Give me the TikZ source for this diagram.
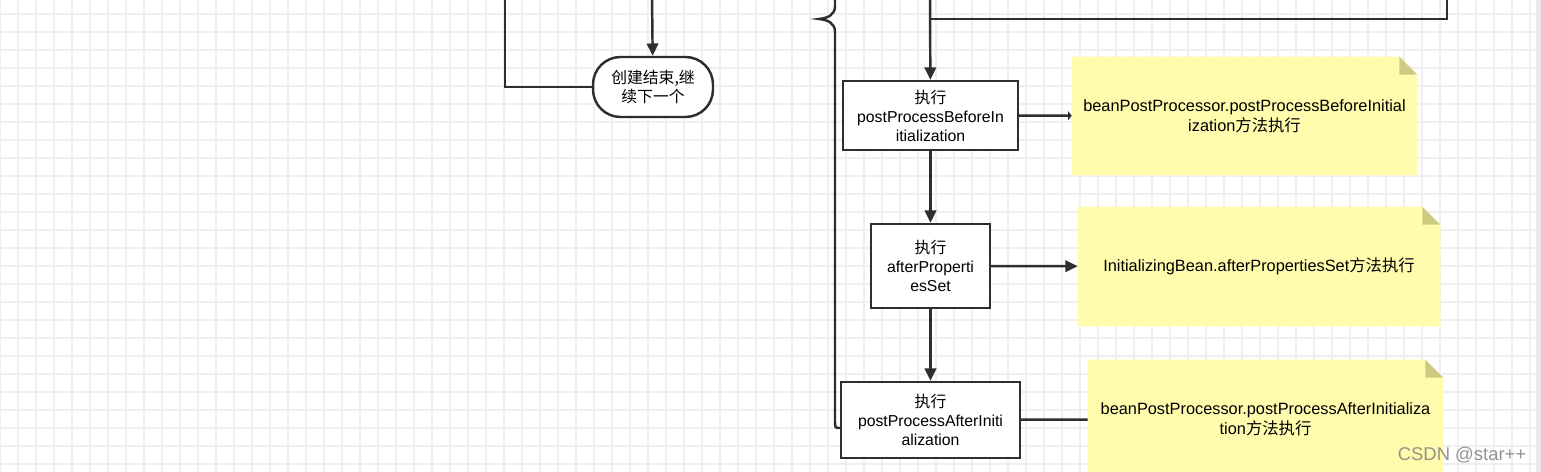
\documentclass[tikz,border=0pt]{standalone}
\usepackage{fontspec}
\setmainfont{Liberation Sans}
\newfontfamily\cjk{Noto Sans CJK SC}
\usetikzlibrary{ arrows.meta
               , backgrounds
               , calc
               }
\definecolor{lineGrey}{HTML}{2E2E2E}
\definecolor{gridGrey}{HTML}{EFEFEF}
\definecolor{noteYellow}{HTML}{FFFCAE}
\definecolor{noteFold}{HTML}{CDCB82}
\definecolor{sideGrey}{HTML}{E9E9EE}

\begin{document}
\begin{tikzpicture}
      [ x=0.02cm, y=-0.02cm
      , flow/.style={lineGrey, line width=1.4pt}
      , arr/.style={flow, -{Triangle[length=7pt,width=6.5pt]}}
      , proc/.style={draw=lineGrey, line width=1.4pt, fill=white, align=center, inner sep=0pt,
                     font=\fontsize{9}{10.8}\selectfont}
      , stop/.style={proc, rounded corners=0.55cm}
      , note/.style={align=center, inner sep=0pt, font=\fontsize{9.3}{11.2}\selectfont}
      ]
    \useasboundingbox (0,0) rectangle (1541,472);

    % grid
    \begin{scope}[on background layer]
    \fill[white] (0,0) rectangle (1541,472);
    \foreach \gx in {0,18,...,1530}
        \draw[gridGrey, line width=0.6pt] (\gx,0) -- (\gx,472);
    \foreach \gy in {14,32,...,472}
        \draw[gridGrey, line width=0.6pt] (0,\gy) -- (1541,\gy);
    \fill[sideGrey] (1536,0) rectangle (1541,472);
    \end{scope}

    % left part
    \node[stop, minimum width=2.4cm, minimum height=1.2cm] (Done) at (653,87)
        {\cjk 创建结束,继\\\cjk 续下一个};
    \coordinate (inL) at (505,-5);
    \coordinate (inM) at (652,-5);
    \draw[flow] (inL) |- (Done);
    \draw[arr] (inM) -- (Done);

    % right part
    \node[proc, minimum width=3.5cm, minimum height=1.38cm] (Before) at (930.5,115.5)
        {{\cjk 执行}\\postProcessBeforeIn\\itialization};
    \node[proc, minimum width=2.38cm, minimum height=1.68cm] (Props) at (930.5,266)
        {{\cjk 执行}\\afterProperti\\esSet};
    \node[proc, minimum width=3.58cm, minimum height=1.52cm] (After) at (930.5,420)
        {{\cjk 执行}\\postProcessAfterIniti\\alization};

    \node[note, minimum width=6.9cm, minimum height=2.36cm] (NBefore) at (1244.5,116)
        {beanPostProcessor.postProcessBeforeInitial\\ization{\cjk 方法执行}};
    \node[note, minimum width=7.24cm, minimum height=2.38cm] (NProps) at (1259,266.5)
        {InitializingBean.afterPropertiesSet{\cjk 方法执行}};
    \node[note, minimum width=7.1cm, minimum height=2.36cm] (NAfter) at (1265.5,419)
        {beanPostProcessor.postProcessAfterInitializa\\tion{\cjk 方法执行}};

    \begin{scope}[on background layer]
    \foreach \n in {NBefore,NProps,NAfter} {
        \fill[noteYellow] (\n.south west) -- (\n.north west)
            -- ([xshift=-0.36cm]\n.north east) -- ([yshift=-0.36cm]\n.north east)
            -- (\n.south east) -- cycle;
        \fill[noteFold] ([xshift=-0.36cm]\n.north east) -- ([yshift=-0.36cm]\n.north east)
            -- ([xshift=-0.36cm,yshift=-0.36cm]\n.north east) -- cycle;
    }
    \end{scope}

    \coordinate (inR) at (930,-5);
    \coordinate (split) at (930,19);
    \coordinate (outR) at (1447,-5);
    \coordinate (braceTop) at (835,-5);

    \draw[arr] (inR) -- (Before);
    \draw[flow] (split) -| (outR);
    \draw[arr] (Before) -- (Props);
    \draw[arr] (Props) -- (After);

    \draw[flow, -{Triangle[length=2pt,width=5pt]}] (Before) -- (NBefore);
    \draw[arr] (Props) -- (NProps);
    \draw[flow] (After) -- (NAfter);

    % brace
    \draw[flow] (braceTop) -- (835,6)
        .. controls (835,15) and (828,18) .. (819,19)
        .. controls (828,20) and (835,23) .. (835,32)
        -- (835,420) .. controls (835,428) .. ($(After.west)+(0,8)$);

    \node[text=gray, font=\fontsize{10.5}{12}\selectfont, opacity=0.85] (Mark) at (1462,455)
        {CSDN @star++};
\end{tikzpicture}
\end{document}
